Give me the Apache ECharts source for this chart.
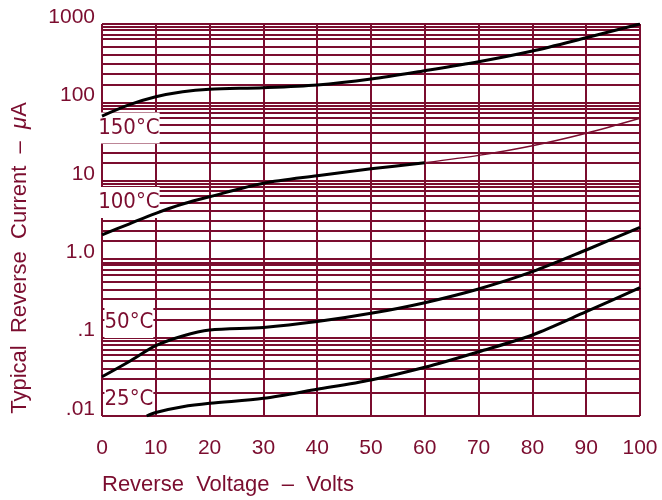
<!DOCTYPE html>
<html>
<head>
<meta charset="utf-8">
<script src="https://cdn.jsdelivr.net/npm/echarts@6/dist/echarts.min.js"></script>
<style>html,body{margin:0;padding:0;background:#fff}#c{width:662px;height:500px}</style>
</head>
<body>
<div id="c"></div>
<script>
// ---- data ----
const voltage = [0, 5, 10, 15, 20, 30, 40, 50, 60, 70, 80, 90, 100];
const current150 = [67, 93, 118, 137, 147, 154, 167, 199, 254, 330, 452, 668, 1000];
const voltage100a = [0, 5, 10, 15, 20, 30, 40, 50, 60];
const current100a = [2.04, 2.81, 3.85, 5.06, 6.27, 9.3, 11.6, 14.2, 17.0];
const voltage100b = [60, 70, 80, 90, 100];
const current100b = [17.0, 21.1, 28.0, 40.4, 62.7];
const current50 = [0.0317, 0.0493, 0.0789, 0.105, 0.125, 0.135, 0.160, 0.204, 0.279, 0.417, 0.693, 1.31, 2.55];
const voltage25 = [8.3, 10, 15, 20, 30, 40, 50, 60, 70, 80, 90, 100];
const current25 = [0.01, 0.0111, 0.0131, 0.0145, 0.0168, 0.0219, 0.0288, 0.0418, 0.066, 0.108, 0.214, 0.433];
const decades = [1000, 100, 10, 1, 0.1];
const minorFactors = [0.91, 0.84, 0.74, 0.64, 0.52, 0.41, 0.31, 0.23, 0.17];
const yTickLabels = ['.01', '.1', '1.0', '10', '100', '1000'];
const xTicks = [0, 10, 20, 30, 40, 50, 60, 70, 80, 90, 100];
const curveLabels = ['150°C', '100°C', '50°C', '25°C'];
const labelX = [5, 5, 5, 5];
const labelY = [47, 5.3, 0.156, 0.0165];

const MAROON = '#7b0d2f';
const pair = (xs, ys) => xs.map((x, i) => [x, ys[i]]);
const minorValues = [];
decades.forEach(d => minorFactors.forEach(f => minorValues.push(d * f)));

const chart = echarts.init(document.getElementById('c'), null, {renderer: 'canvas'});
const option = {
  animation: false,
  backgroundColor: '#fff',
  grid: {left: 102, right: 22, top: 24, bottom: 84, containLabel: false},
  xAxis: {
    type: 'value', min: xTicks[0], max: xTicks[xTicks.length - 1], interval: 10,
    axisLine: {show: false}, axisTick: {show: false},
    splitLine: {show: true, lineStyle: {color: MAROON, width: 2}},
    axisLabel: {color: MAROON, fontSize: 21, fontFamily: 'Liberation Sans, Arial, sans-serif', margin: 22}
  },
  yAxis: {
    type: 'log', logBase: 10, min: 0.01, max: 1000, splitNumber: 5,
    axisLine: {show: false}, axisTick: {show: false},
    splitLine: {show: true, lineStyle: {color: MAROON, width: 2}},
    axisLabel: {
      color: MAROON, fontSize: 21, fontFamily: 'Liberation Sans, Arial, sans-serif', margin: 7,
      verticalAlign: 'bottom', lineHeight: 14,
      formatter: v => yTickLabels[Math.round(Math.log10(v)) + 2]
    }
  },
  graphic: [
    {type: 'text', left: 102, top: 474, style: {text: 'Reverse  Voltage  –  Volts', fill: MAROON, font: '22px "Liberation Sans", Arial, sans-serif'}},
    {type: 'text', x: 9, y: 258, rotation: Math.PI / 2,
      style: {text: 'Typical  Reverse  Current  –  {i|μ}A', fill: MAROON, font: '22px "Liberation Sans", Arial, sans-serif', align: 'center', verticalAlign: 'top',
        rich: {i: {fontStyle: 'italic', fontSize: 22, fill: MAROON, fontFamily: 'Liberation Sans, Arial, sans-serif'}}}}
  ],
  series: [
    {
      type: 'line', data: [], silent: true,
      markLine: {
        silent: true, z: 1, symbol: ['none', 'none'], label: {show: false},
        lineStyle: {color: MAROON, width: 2, type: 'solid'},
        data: minorValues.map(v => ({yAxis: v}))
      }, z: 1
    },
    {type: 'line', data: pair(voltage, current150), smooth: 0.3, symbol: 'none', lineStyle: {color: '#000', width: 3}, z: 3},
    {type: 'line', data: pair(voltage100a, current100a), smooth: 0.3, symbol: 'none', lineStyle: {color: '#000', width: 3}, z: 3},
    {type: 'line', data: pair(voltage100b, current100b), smooth: 0.3, symbol: 'none', lineStyle: {color: MAROON, width: 1.5}, z: 3},
    {type: 'line', data: pair(voltage, current50), smooth: 0.3, symbol: 'none', lineStyle: {color: '#000', width: 3}, z: 3},
    {type: 'line', data: pair(voltage25, current25), smooth: 0.3, symbol: 'none', lineStyle: {color: '#000', width: 3}, z: 3},
    {
      type: 'scatter', symbolSize: 0, itemStyle: {color: '#fff', opacity: 1}, z: 2, silent: true,
      data: curveLabels.map((t, i) => ({value: [labelX[i], labelY[i]], name: t})),
      label: {
        show: true, position: 'inside', formatter: p => p.name, opacity: 1,
        color: MAROON, fontSize: 22, fontFamily: '"Liberation Sans Narrow", "DejaVu Sans Condensed", sans-serif',
        backgroundColor: '#fff', padding: [5, 0, 4, 0]
      }
    }
  ]
};
chart.setOption(option);
</script>
</body>
</html>
